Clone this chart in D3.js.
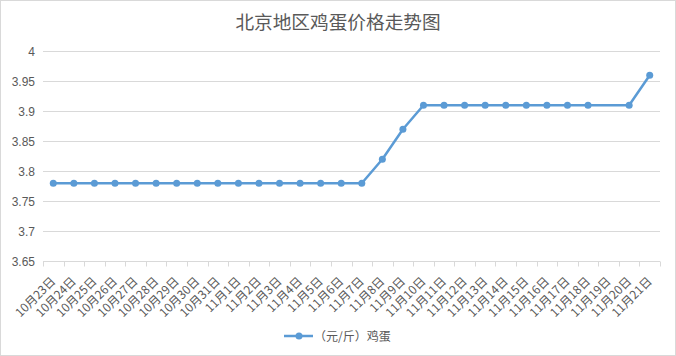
<!DOCTYPE html>
<html><head><meta charset="utf-8">
<script src="https://cdn.jsdelivr.net/npm/d3@7"></script>
<style>
html,body{margin:0;padding:0;background:#fff;}
svg{display:block;font-family:"Noto Sans CJK SC","Liberation Sans",sans-serif;}
</style></head>
<body><svg id="c" width="676" height="356"></svg>
<script>
const title = "北京地区鸡蛋价格走势图";
const seriesName = "（元/斤）鸡蛋";
const categories = ["10月23日","10月24日","10月25日","10月26日","10月27日","10月28日","10月29日","10月30日","10月31日",
"11月1日","11月2日","11月3日","11月4日","11月5日","11月6日","11月7日","11月8日","11月9日","11月10日",
"11月11日","11月12日","11月13日","11月14日","11月15日","11月16日","11月17日","11月18日","11月19日","11月20日","11月21日"];
const values = [3.78,3.78,3.78,3.78,3.78,3.78,3.78,3.78,3.78,
3.78,3.78,3.78,3.78,3.78,3.78,3.78,3.82,3.87,3.91,
3.91,3.91,3.91,3.91,3.91,3.91,3.91,3.91,null,3.91,3.96];
const yTicks = [3.65,3.7,3.75,3.8,3.85,3.9,3.95,4];

(function(){
const svg = d3.select("#c");
const W = 676, H = 356;
const pL = 43, pR = 660, pT = 51.3, pB = 261.3;
const textColor = "#595959", gridColor = "#d9d9d9", lineColor = "#5b9bd5";

svg.append("rect").attr("x",0.5).attr("y",0.5).attr("width",W-1).attr("height",H-1)
  .attr("fill","#fff").attr("stroke",gridColor);

const x = d3.scaleBand().domain(categories).range([pL,pR]).paddingInner(0).paddingOuter(0);
const y = d3.scaleLinear().domain([3.65,4]).range([pB,pT]);

svg.append("text").attr("x",338).attr("y",29).attr("text-anchor","middle")
  .attr("font-size","18.67px").attr("fill",textColor).text(title);

svg.append("g").selectAll("line").data(yTicks.slice(1)).join("line")
  .attr("x1",pL).attr("x2",pR)
  .attr("y1",d=>Math.round(y(d))+0.5).attr("y2",d=>Math.round(y(d))+0.5)
  .attr("stroke",gridColor).attr("stroke-width",1);

const yAxis = d3.axisLeft(y).tickValues(yTicks).tickSize(0).tickPadding(8)
  .tickFormat(d=>String(+d.toFixed(2)));
const gy = svg.append("g").attr("transform",`translate(${pL},0)`).call(yAxis);
gy.select(".domain").remove();
gy.selectAll("text").attr("font-size","12px").attr("fill",textColor)
  .attr("font-family","'Liberation Sans',sans-serif");

const xAxis = d3.axisBottom(x).tickSize(0).tickFormat("");
const gx = svg.append("g").attr("transform",`translate(0,${Math.round(pB)+0.5})`).call(xAxis);
gx.select(".domain").attr("stroke",gridColor).attr("d",`M${pL},0H${pR}`);
const bounds = categories.map(c=>x(c)).concat([x(categories[categories.length-1])+x.bandwidth()]);
gx.selectAll(".bnd").data(bounds).join("line").attr("class","bnd")
  .attr("x1",d=>Math.round(d)+0.5).attr("x2",d=>Math.round(d)+0.5)
  .attr("y1",0).attr("y2",5).attr("stroke",gridColor);
gx.selectAll(".tick text").remove();
svg.append("g").selectAll("text").data(categories).join("text")
  .attr("transform",d=>`translate(${x(d)+x.bandwidth()/2+3},${Math.round(pB)+21}) rotate(-45)`)
  .attr("text-anchor","end").attr("font-size","12px").attr("fill",textColor)
  .text(d=>d);

const pts = categories.map((c,i)=>({c, v: values[i]})).filter(d=>d.v!==null);
const line = d3.line().x(d=>x(d.c)+x.bandwidth()/2).y(d=>y(d.v));
svg.append("path").datum(pts).attr("d",line).attr("fill","none")
  .attr("stroke",lineColor).attr("stroke-width",2.5).attr("stroke-linejoin","round");
svg.append("g").selectAll("circle").data(pts).join("circle")
  .attr("cx",d=>x(d.c)+x.bandwidth()/2).attr("cy",d=>y(d.v)).attr("r",3.5)
  .attr("fill",lineColor);

const lg = svg.append("g").attr("transform","translate(284,336)");
lg.append("line").attr("x1",0).attr("x2",29).attr("y1",0).attr("y2",0)
  .attr("stroke",lineColor).attr("stroke-width",2.5);
lg.append("circle").attr("cx",15).attr("cy",0).attr("r",3.5).attr("fill",lineColor);
lg.append("text").attr("x",30).attr("y",4.5).attr("font-size","12px").attr("fill",textColor)
  .text(seriesName);
})();
</script></body></html>
